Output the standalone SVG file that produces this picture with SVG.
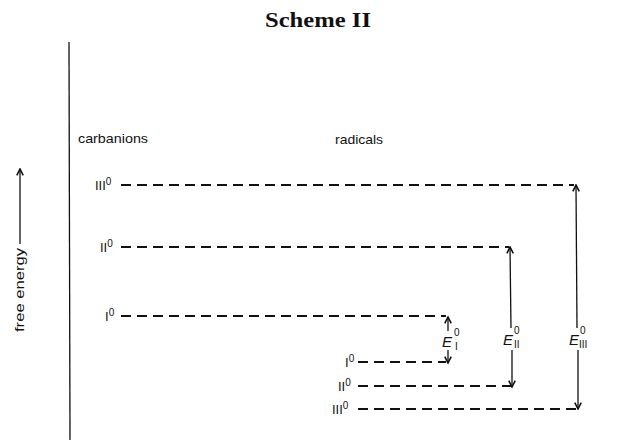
<svg xmlns="http://www.w3.org/2000/svg" width="624" height="443" viewBox="0 0 624 443">
<defs>
<style>
.t{font-family:"Liberation Sans",Arial,sans-serif;fill:#111;}
.lvl{font-size:13px;}
.sup{font-size:10px;}
.e{font-family:"Liberation Sans",Arial,sans-serif;font-style:italic;font-size:15px;fill:#111;}
.es{font-family:"Liberation Sans",Arial,sans-serif;font-size:10px;fill:#111;}
.dash{stroke:#111;stroke-width:2;stroke-dasharray:10 6;fill:none;}
.ln{stroke:#111;stroke-width:1.3;fill:none;}
</style>
<marker id="ah" viewBox="0 0 10 10" refX="9" refY="5" markerWidth="8" markerHeight="8" orient="auto-start-reverse" markerUnits="userSpaceOnUse">
<path d="M1,1 L9,5 L1,9" fill="none" stroke="#111" stroke-width="2"/>
</marker>
</defs>
<rect width="624" height="443" fill="#fff"/>
<text x="318" y="27" text-anchor="middle" font-family="Liberation Serif,serif" font-weight="bold" font-size="20" textLength="106" lengthAdjust="spacingAndGlyphs" fill="#111">Scheme II</text>

<g id="axis">
<line x1="69" y1="42" x2="70" y2="440" class="ln" stroke-width="1.5"/>
</g>
<g id="free-energy">
<line x1="20" y1="244" x2="20" y2="169" class="ln" marker-end="url(#ah)"/>
<text class="t" font-size="13" transform="translate(24,290) rotate(-90)" text-anchor="middle" textLength="84" lengthAdjust="spacingAndGlyphs">free energy</text>
</g>
<text id="carbanions" class="t" x="78" y="143" font-size="13" textLength="70" lengthAdjust="spacingAndGlyphs">carbanions</text>
<text id="radicals" class="t" x="335" y="144" font-size="13" textLength="48" lengthAdjust="spacingAndGlyphs">radicals</text>

<g id="c3"><text class="t lvl" x="95" y="190">III<tspan class="sup" dy="-5">0</tspan></text></g>
<g id="c2"><text class="t lvl" x="100" y="252">II<tspan class="sup" dy="-5">0</tspan></text></g>
<g id="c1"><text class="t lvl" x="105" y="321">I<tspan class="sup" dy="-5">0</tspan></text></g>
<g id="r1"><text class="t lvl" x="345" y="367">I<tspan class="sup" dy="-5">0</tspan></text></g>
<g id="r2"><text class="t lvl" x="338" y="391">II<tspan class="sup" dy="-5">0</tspan></text></g>
<g id="r3"><text class="t lvl" x="332" y="414">III<tspan class="sup" dy="-5">0</tspan></text></g>

<g id="connectors">
<line class="dash" x1="121" y1="185" x2="574" y2="185"/>
<line class="dash" x1="121" y1="247" x2="509" y2="247"/>
<line class="dash" x1="121" y1="316" x2="446" y2="316"/>
<line class="dash" x1="358" y1="362" x2="446" y2="362"/>
<line class="dash" x1="358" y1="386" x2="511" y2="386"/>
<line class="dash" x1="358" y1="409" x2="576" y2="409"/>

<line class="ln" x1="448" y1="331" x2="448" y2="317" marker-end="url(#ah)"/>
<line class="ln" x1="448" y1="350" x2="448" y2="363" marker-end="url(#ah)"/>

<line class="ln" x1="511" y1="328" x2="510" y2="247" marker-end="url(#ah)"/>
<line class="ln" x1="512" y1="350" x2="512" y2="387" marker-end="url(#ah)"/>

<line class="ln" x1="577" y1="328" x2="576" y2="185" marker-end="url(#ah)"/>
<line class="ln" x1="578" y1="350" x2="578" y2="409" marker-end="url(#ah)"/>
</g>

<g id="EI"><text class="e" x="442" y="347">E</text><text class="es" x="454" y="336">0</text><text class="es" x="455" y="350">I</text></g>
<g id="EII"><text class="e" x="503" y="345">E</text><text class="es" x="514" y="334">0</text><text class="es" x="514" y="348">II</text></g>
<g id="EIII"><text class="e" x="569" y="345">E</text><text class="es" x="580" y="334">0</text><text class="es" x="579" y="348">III</text></g>
</svg>
